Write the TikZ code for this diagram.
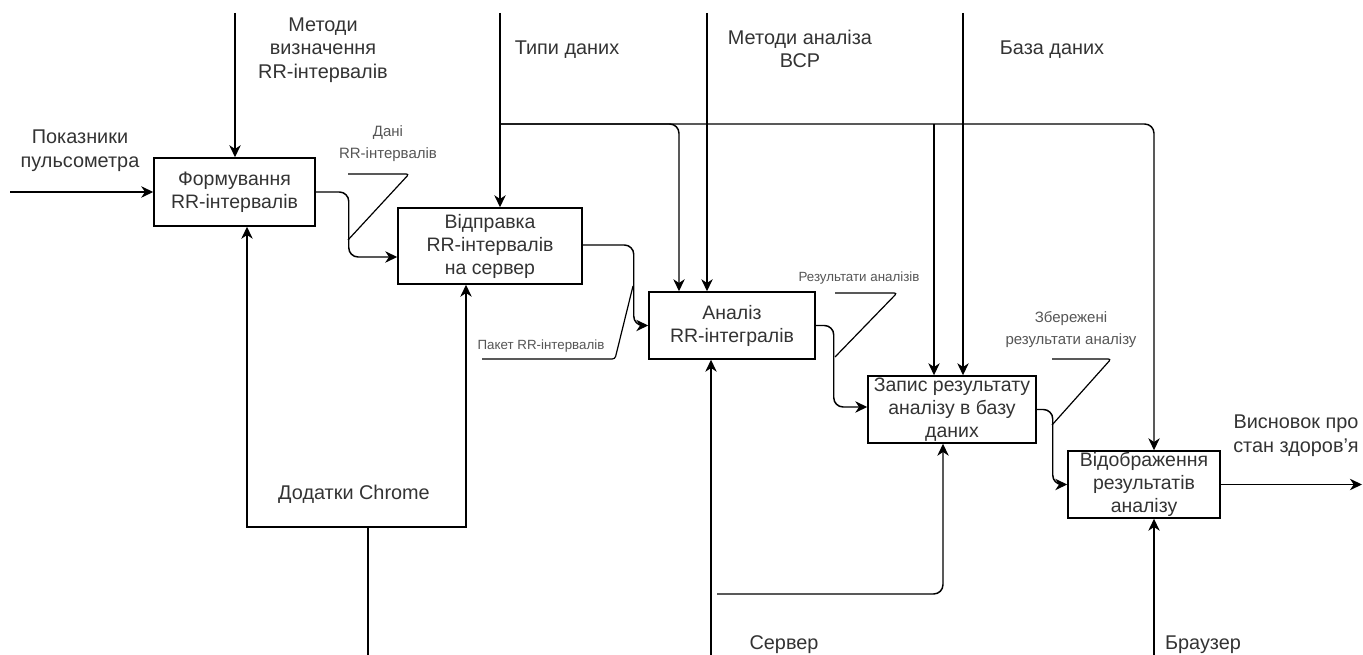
\documentclass[tikz,border=0pt]{standalone}
\usepackage{fontspec}
\setmainfont{Liberation Sans}
\usetikzlibrary{arrows.meta,calc}
\definecolor{txt}{HTML}{333333}
\definecolor{lbl}{HTML}{555555}
\newcommand\fbig{\fontsize{14.6pt}{17.25pt}\selectfont}
\newcommand\flab{\fontsize{14.9pt}{17.6pt}\selectfont}
\newcommand\fsmA{\fontsize{11.25pt}{16.5pt}\selectfont}
\newcommand\fsmB{\fontsize{10pt}{12pt}\selectfont}
\begin{document}
\begin{tikzpicture}[x=0.75pt,y=-0.75pt,
  line width=1.1pt,
  box/.style={draw, line width=1.1pt, inner sep=0pt, align=center, text=txt, font=\fbig},
  arr/.style={-{Stealth[length=9pt,width=8.5pt,inset=2.8pt]}},
  rc/.style={rounded corners=7pt},
  lab/.style={text=txt, align=center, font=\flab, inner sep=0pt},
  sm/.style={text=lbl, align=center, inner sep=0pt},
  callout/.style={line width=0.9pt, rounded corners=2pt}]
\useasboundingbox (0,0) rectangle (1363,655);

% boxes
\node[box, minimum width={161*0.75pt}, minimum height={68*0.75pt}] (b1) at (234.5,192) {Формування\\RR-інтервалів};
\node[box, minimum width={184*0.75pt}, minimum height={76*0.75pt}] (b2) at (490,246) {Відправка\\RR-інтервалів\\на сервер};
\node[box, minimum width={166*0.75pt}, minimum height={67*0.75pt}] (b3) at (732,325.5) {Аналіз\\RR-інтегралів};
\node[box, minimum width={168*0.75pt}, minimum height={67*0.75pt}] (b4) at (952,409.5) {Запис результату\\аналізу в базу\\даних};
\node[box, minimum width={152*0.75pt}, minimum height={67*0.75pt}] (b5) at (1144,484.5) {Відображення\\результатів\\аналізу};

% labels
\node[lab] (l1) at (323,50) {Методи\\визначення\\RR-інтервалів};
\node[lab] (l2) at (80,150.5) {Показники\\пульсометра};
\node[lab] (l3) at (567,50) {Типи даних};
\node[lab] (l4) at (800,49) {Методи аналіза\\ВСР};
\node[lab] (l5) at (1052,50) {База даних};
\node[lab] (l6) at (1296,435.5) {Висновок про\\стан здоров'я};
\node[lab] (l7) at (354,494) {Додатки Chrome};
\node[lab] (l8) at (784,645) {Сервер};
\node[lab] (l9) at (1203,645) {Браузер};

\node[sm, font=\fsmA] (s1) at (388,144) {Дані\\RR-інтервалів};
\node[sm, font=\fsmB] (s2) at (541,346) {Пакет RR-інтервалів};
\node[sm, font=\fsmB] (s3) at (859,278) {Результати аналізів};
\node[sm, font=\fsmA] (s4) at (1071,329.5) {Збережені\\результати аналізу};

% free ends
\coordinate (in) at (10,192);
\coordinate (c1) at (235,13);
\coordinate (t1) at (500,13);
\coordinate (j1) at (500,124);
\coordinate (m2) at (707,13);
\coordinate (db) at (963,13);
\coordinate (j2) at (934,124);
\coordinate (out) at (1362,484.5);
\coordinate (ch) at (368,655);
\coordinate (chj) at (368,527);
\coordinate (sv) at (711,655);
\coordinate (svh) at (717,594);
\coordinate (br) at (1154,655);

% inputs / controls
\draw[arr] (in) -- (b1.west);
\draw[arr] (c1) -- (c1 |- b1.north);
\draw[arr] (t1) -- (t1 |- b2.north);
\draw[arr, rc] (j1) -| ($(b3.north)+(-53,0)$);
\draw[arr] (m2) -- (m2 |- b3.north);
\draw[arr] (j2) -- (j2 |- b4.north);
\draw[arr] (db) -- (db |- b4.north);
\draw[arr, rc] (j1) -| ($(b5.north)+(10,0)$);

% flows between boxes
\draw[arr, rc] (b1.east) -- ++(33,0) |- ($(b2.west)+(0,11)$);
\draw[arr, rc] ($(b2.east)+(0,-1)$) -- ++(51,0) |- (b3.west);
\draw[arr, rc] (b3.east) -- ++(18,0) |- ($(b4.west)+(0,-2.5)$);
\draw[arr, rc] (b4.east) -- ++(16,0) |- (b5.west);
\draw[arr] (b5.east) -- (out);

% mechanisms
\draw (ch) -- (chj);
\draw[arr] (chj) -| ($(b1.south)+(12.5,0)$);
\draw[arr] (chj) -| ($(b2.south)+(-24,0)$);
\draw[arr] (sv) -- (sv |- b3.south);
\draw[arr, rc] (svh) -| ($(b4.south)+(-9,0)$);
\draw[arr] (br) -- (br |- b5.south);

% callout lines
\draw[callout] (348,174) -- (409,174) -- (348,240);
\draw[callout] (482,359) -- (615,359) -- (633,286);
\draw[callout] (835,293) -- (897,293) -- (835,357);
\draw[callout] (1052,359) -- (1111,359) -- (1052,425);
\end{tikzpicture}
\end{document}
